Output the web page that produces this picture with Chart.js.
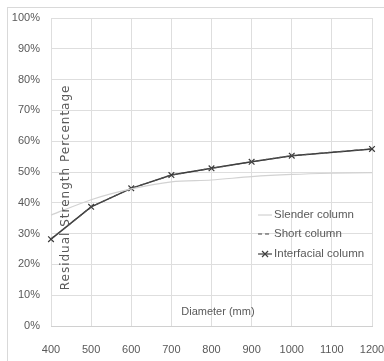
<!DOCTYPE html>
<html><head><meta charset="utf-8">
<script src="https://cdn.jsdelivr.net/npm/chart.js@4/dist/chart.umd.min.js"></script>
<style>html,body{margin:0;padding:0;background:#fff}#wrap{width:384px;height:361px;position:relative}</style>
</head><body><div id="wrap"><canvas id="c" width="384" height="361"></canvas></div>
<script>
const diameters = ['400','500','600','700','800','900','1000','1100','1200'];
const slender = [36, 41, 44.5, 46.8, 47.4, 48.5, 49.2, 49.6, 49.8];
const shortCol = [28.2, 38.7, 44.7, 49, 51.2, 53.3, 55.3, null, 57.5];
const interfacial = [28.2, 38.7, 44.7, 49, 51.2, 53.3, 55.3, null, 57.5];
const yTicks = [0,10,20,30,40,50,60,70,80,90,100];
const seriesNames = ['Slender column','Short column','Interfacial column'];
const xTitle = 'Diameter (mm)';
const yTitle = 'Residual Strength Percentage';

const FONT = "'Liberation Sans',sans-serif";
const TXT = '#595959';

const overlay = {
  id:'overlay',
  beforeDraw(chart){
    const c = chart.ctx;
    c.save();
    c.fillStyle='#fff'; c.fillRect(0,0,chart.width,chart.height);
    c.strokeStyle='#d9d9d9'; c.lineWidth=1;
    c.strokeRect(7.5,7.5,chart.width-6,chart.height-6);
    c.restore();
  },
  afterDraw(chart){
    const c = chart.ctx, a = chart.chartArea;
    c.save();
    c.fillStyle = TXT;
    c.font = '11px '+FONT;
    c.textAlign='center'; c.textBaseline='middle';
    c.fillText(xTitle, a.left + (a.right-a.left)*0.52, a.bottom - 14);
    c.save();
    c.translate(a.left + 15, a.top + (a.bottom-a.top)*0.55);
    c.rotate(-Math.PI/2);
    c.font = "12px 'DejaVu Sans',sans-serif";
    try { c.letterSpacing = '1px'; } catch(e) {}
    c.fillText(yTitle, 0, 0);
    try { c.letterSpacing = '0px'; } catch(e) {}
    c.restore();
    const lx = a.left + (a.right-a.left)*0.645;
    const ys = [a.top + 197, a.top + 216, a.top + 236];
    const styles = [
      {color:'#c8c8c8', dash:[], w:1, mark:false},
      {color:'#404040', dash:[4,3], w:1.2, mark:false},
      {color:'#404040', dash:[], w:1.2, mark:true}
    ];
    c.textAlign='left';
    c.font = '11.5px '+FONT;
    seriesNames.forEach((n,i)=>{
      const s = styles[i];
      c.strokeStyle=s.color; c.lineWidth=s.w; c.setLineDash(s.dash);
      c.beginPath(); c.moveTo(lx, ys[i]); c.lineTo(lx+14, ys[i]); c.stroke();
      c.setLineDash([]);
      if(s.mark){
        c.beginPath();
        c.moveTo(lx+4,ys[i]-3); c.lineTo(lx+10,ys[i]+3);
        c.moveTo(lx+10,ys[i]-3); c.lineTo(lx+4,ys[i]+3);
        c.stroke();
      }
      c.fillStyle=TXT;
      c.fillText(n, lx+16, ys[i]);
    });
    c.restore();
  }
};

new Chart(document.getElementById('c'), {
  type:'line',
  data:{
    labels: diameters,
    datasets:[
      {label:seriesNames[0], data:slender, borderColor:'#d2d2d2', borderWidth:1.2, pointRadius:0, tension:0.3},
      {label:seriesNames[1], data:shortCol, borderColor:'#505050', borderWidth:1.2, borderDash:[4,3], pointRadius:0, spanGaps:true},
      {label:seriesNames[2], data:interfacial, borderColor:'#3a3a3a', borderWidth:1.5, pointStyle:'crossRot', pointRadius:4, pointBorderWidth:1.2, pointBorderColor:'#3a3a3a', spanGaps:true}
    ]
  },
  options:{
    responsive:false, animation:false,
    layout:{padding:{top:18,right:12,left:0,bottom:0}},
    plugins:{legend:{display:false}, tooltip:{enabled:false}},
    scales:{
      x:{
        offset:false,
        grid:{color:'#dedede', drawTicks:false},
        border:{color:'#d0d0d0'},
        ticks:{color:TXT, font:{family:FONT, size:11}, padding:17, maxRotation:0, autoSkip:false},
        afterFit(s){ s.height = 35; s.paddingLeft = 0; s.paddingRight = 0; }
      },
      y:{
        min:0, max:100,
        afterBuildTicks(s){ s.ticks = yTicks.map(v=>({value:v})); },
        grid:{color:'#dedede', drawTicks:false},
        border:{display:false},
        ticks:{color:TXT, font:{family:FONT, size:11}, padding:11, callback:v=>v+'%'},
        afterFit(s){ s.width = 51; s.paddingTop = 0; s.paddingBottom = 0; }
      }
    }
  },
  plugins:[overlay]
});
</script></body></html>
